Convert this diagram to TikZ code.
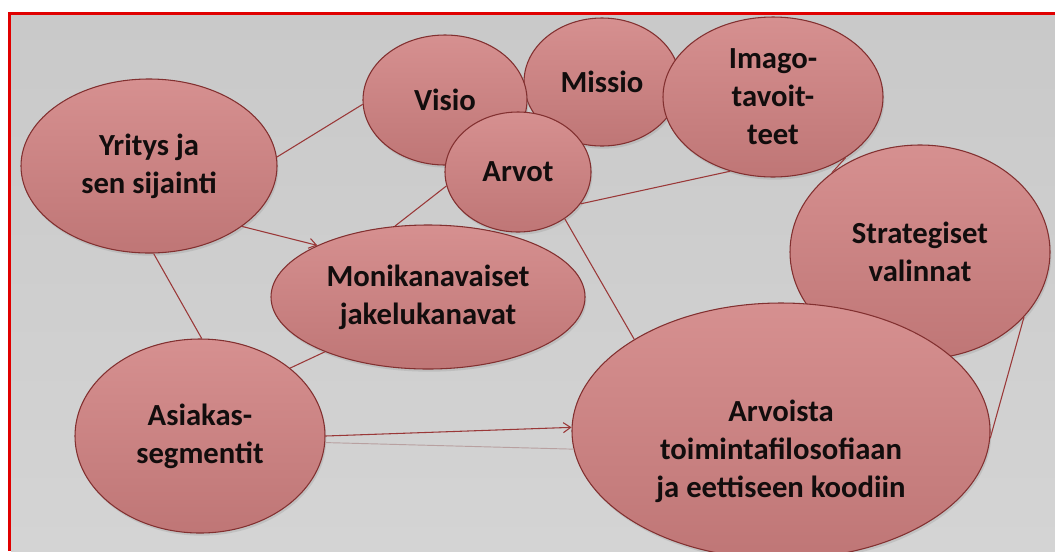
\documentclass[tikz,border=0pt]{standalone}
\usepackage{fontspec}
\setmainfont{Carlito}
\usetikzlibrary{shapes.geometric,arrows.meta,shadows}
\definecolor{bgtop}{HTML}{C9C9C9}
\definecolor{bgbot}{HTML}{D4D4D4}
\definecolor{frame}{HTML}{E00000}
\definecolor{elltop}{HTML}{D69090}
\definecolor{ellbot}{HTML}{BF7676}
\definecolor{ellout}{HTML}{823030}
\definecolor{conn}{HTML}{9A3838}
\definecolor{faint}{HTML}{B8A0A0}
\definecolor{txt}{HTML}{120D0D}
\begin{document}
\begin{tikzpicture}[x=0.75pt,y=-0.75pt,
  lbl/.style={align=center, font=\bfseries\fontsize{23}{28.5}\selectfont, text=txt, inner sep=0pt},
  bub/.style={ellipse, draw=ellout, line width=0.8pt, top color=elltop, bottom color=ellbot,
    lbl, drop shadow={shadow xshift=1pt, shadow yshift=-2pt, opacity=0.22}},
  con/.style={draw=conn, line width=0.8pt},
  arr/.style={con, -{Straight Barb[length=5.5pt,width=7.5pt]}}]
\useasboundingbox (0,0) rectangle (1055,551);
\fill[white] (0,0) rectangle (1055,551);
\fill[top color=bgtop, bottom color=bgbot] (11,15) rectangle (1055,551);
\fill[frame] (8,12) rectangle (1055,15);
\fill[frame] (8,12) rectangle (11,551);

% ellipses (drawing order matters)
\node[bub, minimum width=195pt, minimum height=160.5pt] (st) at (920,252) {Strategiset\\valinnat};
\node[bub, minimum width=313.5pt, minimum height=192pt] (ao) at (781,431) {};
\node[lbl] (aot) at (781,451) {Arvoista\\toimintafilosofiaan\\ja eettiseen koodiin};
\node[bub, minimum width=192pt, minimum height=130.5pt] (yr) at (149,166) {Yritys ja\\sen sijainti};
\node[bub, minimum width=117pt, minimum height=96pt] (mi) at (602,82) {Missio};
\node[bub, minimum width=123pt, minimum height=97.5pt] (vi) at (445,100) {Visio};
\node[bub, minimum width=165pt, minimum height=120pt] (im) at (773,97) {Imago-\\tavoit-\\teet};
\node[bub, minimum width=109.5pt, minimum height=90pt] (ar) at (518,172) {Arvot};
\node[bub, minimum width=235.5pt, minimum height=108pt] (mo) at (428,297) {Monikanavaiset\\jakelukanavat};
\node[bub, minimum width=187.5pt, minimum height=145.5pt] (as) at (200,436) {Asiakas-\\segmentit};

% connectors
\draw[con] (yr.4) -- (vi.183);
\draw[arr] (yr.-33) -- (mo.155);
\draw[con] (yr.-87) -- (as.89);
\draw[con] (mo.115) -- (ar.191);
\draw[con] (as.37) -- (mo.208);
\draw[draw=faint, line width=0.7pt] (as.-3) -- (ao.185);
\draw[arr] (as.0) -- (ao.179.5);
\draw[con] (ar.-27) -- (im.240);
\draw[con] (im.-40) -- (st.138);
\draw[con] (ar.-45) -- (ao.148);
\draw[con] (st.-32) -- (ao.-2.5);
\end{tikzpicture}
\end{document}
